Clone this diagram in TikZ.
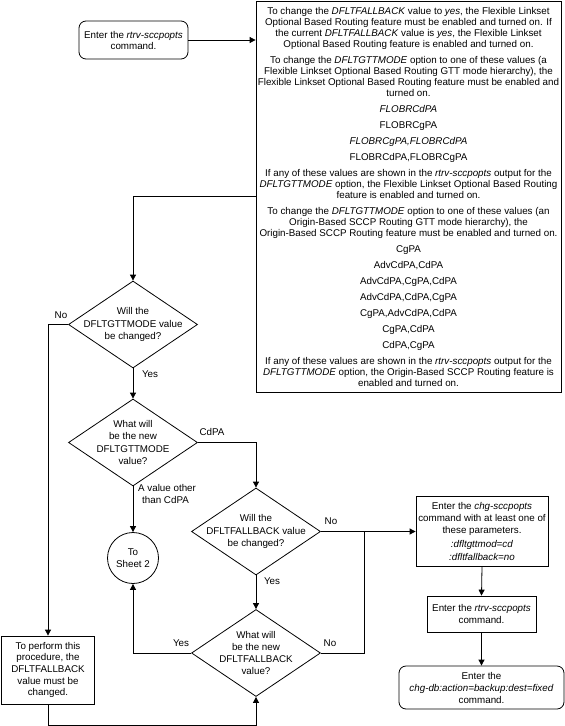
\documentclass[tikz,border=0pt]{standalone}
\usepackage{fontspec}
\setmainfont{Liberation Sans}
\usetikzlibrary{arrows.meta,shapes.geometric}
\begin{document}
\begin{tikzpicture}[x=1pt,y=-1pt, font=\fontsize{9.8}{11}\selectfont,
  line/.style={draw, line width=0.8pt},
  arr/.style={line, -{Triangle[length=6pt,width=6pt]}},
  box/.style={draw, line width=0.8pt, align=center, inner sep=0.5pt},
  rbox/.style={box, rounded corners=7pt},
  dia/.style={draw, line width=0.8pt, diamond, inner sep=0pt, minimum width=129pt, minimum height=87pt},
  lbl/.style={inner sep=0pt, align=center},
  dlbl/.style={lbl, font=\fontsize{9.8}{12.2}\selectfont},
]
\useasboundingbox (0,0) rectangle (565,726);

\node[rbox, minimum width=109pt, minimum height=38pt] (start) at (133.5,40) {Enter the \textit{rtrv-sccpopts}\\command.};

\node[box, minimum width=305pt, minimum height=391pt] (big) at (408.5,196.5) {%
To change the \textit{DFLTFALLBACK} value to \textit{yes}, the Flexible Linkset\\
Optional Based Routing feature must be enabled and turned on. If\\
the current \textit{DFLTFALLBACK} value is \textit{yes}, the Flexible Linkset\\
Optional Based Routing feature is enabled and turned on.\\[5pt]
To change the \textit{DFLTGTTMODE} option to one of these values (a\\
Flexible Linkset Optional Based Routing GTT mode hierarchy), the\\
Flexible Linkset Optional Based Routing feature must be enabled and\\
turned on.\\[5pt]
\textit{FLOBRCdPA}\\[5pt]
FLOBRCgPA\\[5pt]
\textit{FLOBRCgPA,FLOBRCdPA}\\[5pt]
FLOBRCdPA,FLOBRCgPA\\[5pt]
If any of these values are shown in the \textit{rtrv-sccpopts} output for the\\
\textit{DFLTGTTMODE} option, the Flexible Linkset Optional Based Routing\\
feature is enabled and turned on.\\[5pt]
To change the \textit{DFLTGTTMODE} option to one of these values (an\\
Origin-Based SCCP Routing GTT mode hierarchy), the\\
Origin-Based SCCP Routing feature must be enabled and turned on.\\[5pt]
CgPA\\[5pt]
AdvCdPA,CdPA\\[5pt]
AdvCdPA,CgPA,CdPA\\[5pt]
AdvCdPA,CdPA,CgPA\\[5pt]
CgPA,AdvCdPA,CdPA\\[5pt]
CgPA,CdPA\\[5pt]
CdPA,CgPA\\[5pt]
If any of these values are shown in the \textit{rtrv-sccpopts} output for the\\
\textit{DFLTGTTMODE} option, the Origin-Based SCCP Routing feature is\\
enabled and turned on.};

\node[dia] (d1) at (133,324.5) {};
\node[dlbl] (t1) at (d1) {Will the\\DFLTGTTMODE value\\be changed?};
\node[dia] (d2) at (133,442.5) {};
\node[dlbl] (t2) at (d2) {What will\\be the new\\DFLTGTTMODE\\value?};
\node[dia] (d3) at (256,531.5) {};
\node[dlbl] (t3) at (d3) {Will the\\DFLTFALLBACK value\\be changed?};
\node[dia] (d4) at (256,653) {};
\node[dlbl] (t4) at (d4) {What will\\be the new\\DFLTFALLBACK\\value?};

\node[box, minimum width=93pt, minimum height=68pt, font=\fontsize{9.8}{11.6}\selectfont] (perform) at (48,670) {To perform this\\procedure, the\\DFLTFALLBACK\\value must be\\changed.};
\node[draw, circle, line width=0.8pt, minimum size=51pt, inner sep=0pt, align=center, font=\fontsize{9.8}{12}\selectfont] (sheet) at (133,558) {To\\Sheet 2};

\node[box, minimum width=132pt, minimum height=70pt, font=\fontsize{9.8}{12}\selectfont] (chg) at (482,531.5) {Enter the \textit{chg-sccpopts}\\command with at least one of\\these parameters.\\[1.5pt]\textit{:dfltgttmod=cd}\\[1.5pt]\textit{:dfltfallback=no}};
\node[box, minimum width=109pt, minimum height=36pt, font=\fontsize{9.8}{12}\selectfont] (rtrv) at (481.5,614) {Enter the \textit{rtrv-sccpopts}\\command.};
\node[rbox, minimum width=165pt, minimum height=43pt, font=\fontsize{9.8}{12}\selectfont] (chgdb) at (481.5,687.5) {Enter the\\\textit{chg-db:action=backup:dest=fixed}\\command.};

\coordinate (jn) at (364,531.5);
\coordinate (bl) at (48,725);

\draw[arr] (start.east) -- (start.east -| big.west);
\draw[arr] (big.west) -| (d1.north);
\draw[arr] (d1.west) -| (perform.north);
\draw[arr] (d1.south) -- (d2.north);
\draw[arr] (d2.east) -| (d3.north);
\draw[arr] (d2.south) -- (sheet.north);
\draw[arr] (d3.east) -- (chg.west);
\draw[arr] (d3.south) -- (d4.north);
\draw[arr] (d4.west) -| (sheet.south);
\draw[line] (d4.east) -| (jn);
\draw[arr] (perform.south) -- (perform.south |- bl) -| (d4.south);
\draw[arr] (chg.south) -- (rtrv.north);
\draw[arr] (rtrv.south) -- (chgdb.north);

\node[lbl] (lno1) at (61,315) {No};
\node[lbl] (lyes1) at (150,374) {Yes};
\node[lbl] (lcdpa) at (212,432) {CdPA};
\node[lbl, anchor=west, align=left, font=\fontsize{9.8}{12}\selectfont] (lother) at (138,494) {A value other\\\hspace*{4pt}than CdPA};
\node[lbl] (lno3) at (331,521) {No};
\node[lbl] (lyes3) at (272,581) {Yes};
\node[lbl] (lyes4) at (181,643) {Yes};
\node[lbl] (lno4) at (330,643) {No};
\end{tikzpicture}
\end{document}
